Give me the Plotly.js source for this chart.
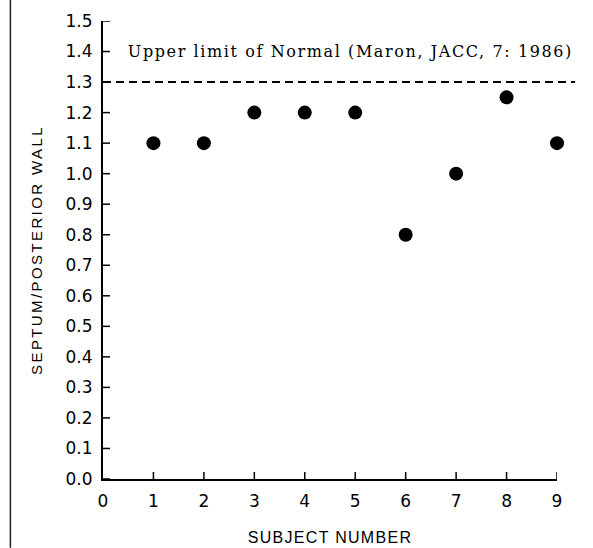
<!DOCTYPE html>
<html><head><meta charset="utf-8">
<script src="https://cdn.plot.ly/plotly-3.0.1.min.js"></script>
<style>
html,body{margin:0;padding:0;background:#fff;}
#chart .ytitle{letter-spacing:2.4px;}
#chart .xtitle{letter-spacing:1.3px;}
#chart .annotation-text{letter-spacing:1.6px;}
</style>
</head><body><div id="chart" style="width:593px;height:548px;"></div>
<script>
const subjects = [1, 2, 3, 4, 5, 6, 7, 8, 9];
const ratio = [1.1, 1.1, 1.2, 1.2, 1.2, 0.8, 1.0, 1.25, 1.1];
const upperLimit = 1.3;
const yTicks = [0.0,0.1,0.2,0.3,0.4,0.5,0.6,0.7,0.8,0.9,1.0,1.1,1.2,1.3,1.4,1.5];
const xTicks = [0,1,2,3,4,5,6,7,8,9];

const trace = {x: subjects, y: ratio, type: 'scatter', mode: 'markers',
  marker: {color: '#000', size: 14}, cliponaxis: false, showlegend: false, hoverinfo: 'none'};

// inside tick marks, built from the tick arrays, sized in pixels
const tickStyle = {color: '#000', width: 1.5};
const yTickShapes = yTicks.map(v => ({type: 'line', layer: 'above', xref: 'x', yref: 'y',
  xsizemode: 'pixel', xanchor: 0, x0: 0, x1: 7, y0: v, y1: v, line: tickStyle}));
const xTickShapes = xTicks.slice(1).map(v => ({type: 'line', layer: 'above', xref: 'x', yref: 'y',
  ysizemode: 'pixel', yanchor: 0, y0: 0, y1: 7, x0: v, x1: v, line: tickStyle}));

const layout = {
  width: 593, height: 548,
  margin: {l: 103, r: 36, t: 21, b: 69},
  paper_bgcolor: '#fff', plot_bgcolor: '#fff',
  font: {family: 'Liberation Sans, Arial, sans-serif', color: '#000', size: 15},
  xaxis: {range: [0, 9], tickvals: xTicks, ticks: '',
    showline: true, linewidth: 2, linecolor: '#000', showgrid: false, zeroline: false,
    ticklabelstandoff: 6,
    tickfont: {family: 'DejaVu Sans, sans-serif', size: 17},
    title: {text: 'SUBJECT NUMBER', font: {size: 16}, standoff: 21}},
  yaxis: {range: [0, 1.5], tickvals: yTicks, tickformat: '.1f', ticks: '',
    showline: true, linewidth: 2, linecolor: '#000', showgrid: false, zeroline: false,
    ticklabelstandoff: 5,
    tickfont: {family: 'DejaVu Sans, sans-serif', size: 17},
    title: {text: 'SEPTUM/POSTERIOR WALL', font: {size: 15}, standoff: 19}},
  shapes: [
    {type: 'line', xref: 'paper', yref: 'y', x0: 0, x1: 1.04, y0: upperLimit, y1: upperLimit,
     line: {color: '#000', width: 2, dash: '8px,5px'}},
    {type: 'line', xref: 'paper', yref: 'paper', x0: -0.204, x1: -0.204, y0: -0.15, y1: 1.05,
     line: {color: '#222', width: 1.5}}
  ].concat(yTickShapes, xTickShapes),
  annotations: [
    {xref: 'paper', yref: 'y', x: 0.546, y: 1.4, xanchor: 'center', yanchor: 'middle', showarrow: false,
     text: 'Upper limit of Normal (Maron, JACC, 7: 1986)',
     font: {family: 'DejaVu Serif, serif', size: 16, color: '#000'}}
  ]
};
Plotly.newPlot('chart', [trace], layout, {staticPlot: true});
</script></body></html>
